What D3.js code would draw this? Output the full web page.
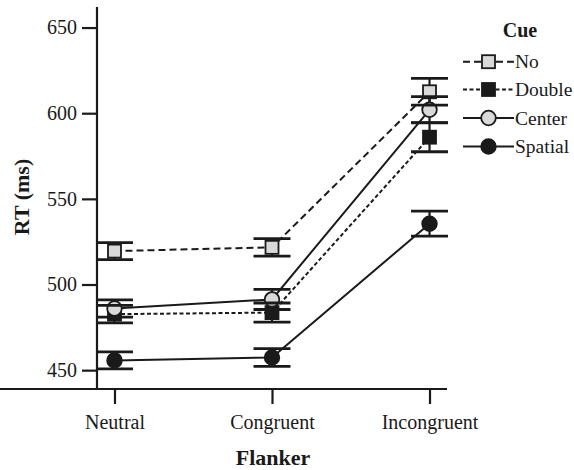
<!DOCTYPE html>
<html>
<head>
<meta charset="utf-8">
<script src="https://cdn.jsdelivr.net/npm/d3@7"></script>
<style>
  html, body { margin: 0; padding: 0; background: #fff; }
  svg { display: block; }
  text { font-family: "Liberation Serif", "Times New Roman", serif; fill: #1a1a1a; }
</style>
</head>
<body>
<svg id="chart" width="574" height="470"></svg>
<script>
// Flanker conditions on the x axis
const flankers = ["Neutral", "Congruent", "Incongruent"];
// Cue conditions (legend order)
const cues = ["No", "Double", "Center", "Spatial"];
// Mean RT (ms) per cue, one value per flanker condition
const rtNo      = [519.5, 521.7, 612.5];
const rtDouble  = [482.7, 483.6, 586.0];
const rtCenter  = [486.0, 491.3, 602.0];
const rtSpatial = [455.7, 457.4, 535.5];
// Standard errors (ms)
const seNo      = [5.0, 5.1, 7.8];
const seDouble  = [5.1, 5.6, 8.5];
const seCenter  = [5.0, 5.9, 7.7];
const seSpatial = [5.0, 5.2, 7.3];
// Y axis ticks
const yTicks = [450, 500, 550, 600, 650];

const ink = "#1a1a1a";
const light = "#d9d9d9";

const styles = {
  No:      { dash: "7,4",   shape: "square", fill: light },
  Double:  { dash: "4,2.5", shape: "square", fill: ink },
  Center:  { dash: null,    shape: "circle", fill: light },
  Spatial: { dash: null,    shape: "circle", fill: ink }
};

const series = [
  { cue: "No",      rt: rtNo,      se: seNo },
  { cue: "Double",  rt: rtDouble,  se: seDouble },
  { cue: "Center",  rt: rtCenter,  se: seCenter },
  { cue: "Spatial", rt: rtSpatial, se: seSpatial }
];

const svg = d3.select("#chart");

const x = d3.scalePoint().domain(flankers).range([97, 447]).padding(0.111);
const y = d3.scaleLinear().domain([439, 662]).range([389, 7]);

// Axes
const yAxis = svg.append("g").attr("transform", "translate(97,0)")
  .call(d3.axisLeft(y).tickValues(yTicks).tickSize(15).tickPadding(5).tickSizeOuter(0));
const xAxis = svg.append("g").attr("transform", "translate(0,389)")
  .call(d3.axisBottom(x).tickSize(15).tickPadding(11).tickSizeOuter(0));

[yAxis, xAxis].forEach(g => {
  g.select(".domain").attr("stroke", ink).attr("stroke-width", 2.2);
  g.selectAll(".tick line").attr("stroke", ink).attr("stroke-width", 2.2);
  g.selectAll(".tick text").attr("fill", ink)
    .style("font-family", '"Liberation Serif", "Times New Roman", serif')
    .style("font-size", "20px");
});
// Extend the domains so the axes meet at the corner
yAxis.select(".domain").attr("d", `M0,${y(662)}V${y(439) + 1}`);
xAxis.select(".domain").attr("d", `M-1,0H447`);

// Axis titles
svg.append("text")
  .attr("transform", "translate(29,197) rotate(-90)")
  .attr("text-anchor", "middle")
  .style("font-size", "22px").style("font-weight", "bold")
  .text("RT (ms)");
svg.append("text")
  .attr("x", 273).attr("y", 465)
  .attr("text-anchor", "middle")
  .style("font-size", "22px").style("font-weight", "bold")
  .text("Flanker");

function drawMarker(g, shape, fill, cx, cy) {
  if (shape === "square") {
    g.append("rect")
      .attr("x", cx - 6.5).attr("y", cy - 6.5)
      .attr("width", 13).attr("height", 13)
      .attr("fill", fill).attr("stroke", ink).attr("stroke-width", 1.8);
  } else {
    g.append("circle")
      .attr("cx", cx).attr("cy", cy).attr("r", 7.3)
      .attr("fill", fill).attr("stroke", ink).attr("stroke-width", 1.8);
  }
}

const line = d3.line().x(d => x(d.f)).y(d => y(d.v));

const plot = svg.append("g");
const lineLayer = plot.append("g");
const whiskerLayer = plot.append("g");
const markerLayer = plot.append("g");
const capLayer = plot.append("g");

series.forEach(s => {
  const st = styles[s.cue];
  const pts = flankers.map((f, i) => ({ f, v: s.rt[i], e: s.se[i] }));

  lineLayer.append("path")
    .datum(pts)
    .attr("d", line)
    .attr("fill", "none")
    .attr("stroke", ink)
    .attr("stroke-width", 2)
    .attr("stroke-dasharray", st.dash);

  pts.forEach(p => {
    const cx = x(p.f);
    whiskerLayer.append("line")
      .attr("x1", cx).attr("x2", cx)
      .attr("y1", y(p.v + p.e)).attr("y2", y(p.v - p.e))
      .attr("stroke", ink).attr("stroke-width", 2.2);
    drawMarker(markerLayer, st.shape, st.fill, cx, y(p.v));
    [p.v + p.e, p.v - p.e].forEach(v => {
      capLayer.append("line")
        .attr("x1", cx - 18.5).attr("x2", cx + 18.5)
        .attr("y1", y(v)).attr("y2", y(v))
        .attr("stroke", ink).attr("stroke-width", 2.8);
    });
  });
});

// Legend
const legend = svg.append("g");
legend.append("text")
  .attr("x", 520).attr("y", 37)
  .attr("text-anchor", "middle")
  .style("font-size", "20px").style("font-weight", "bold")
  .text("Cue");

const rowY = [61.7, 89.5, 118, 146.5];
cues.forEach((c, i) => {
  const st = styles[c];
  const ry = rowY[i];
  legend.append("line")
    .attr("x1", 463).attr("x2", 514)
    .attr("y1", ry).attr("y2", ry)
    .attr("stroke", ink).attr("stroke-width", 2)
    .attr("stroke-dasharray", st.dash);
  drawMarker(legend, st.shape, st.fill, 488.5, ry);
  legend.append("text")
    .attr("x", 515).attr("y", ry)
    .attr("dy", "0.34em")
    .style("font-size", "19.5px")
    .text(c);
});
</script>
</body>
</html>
